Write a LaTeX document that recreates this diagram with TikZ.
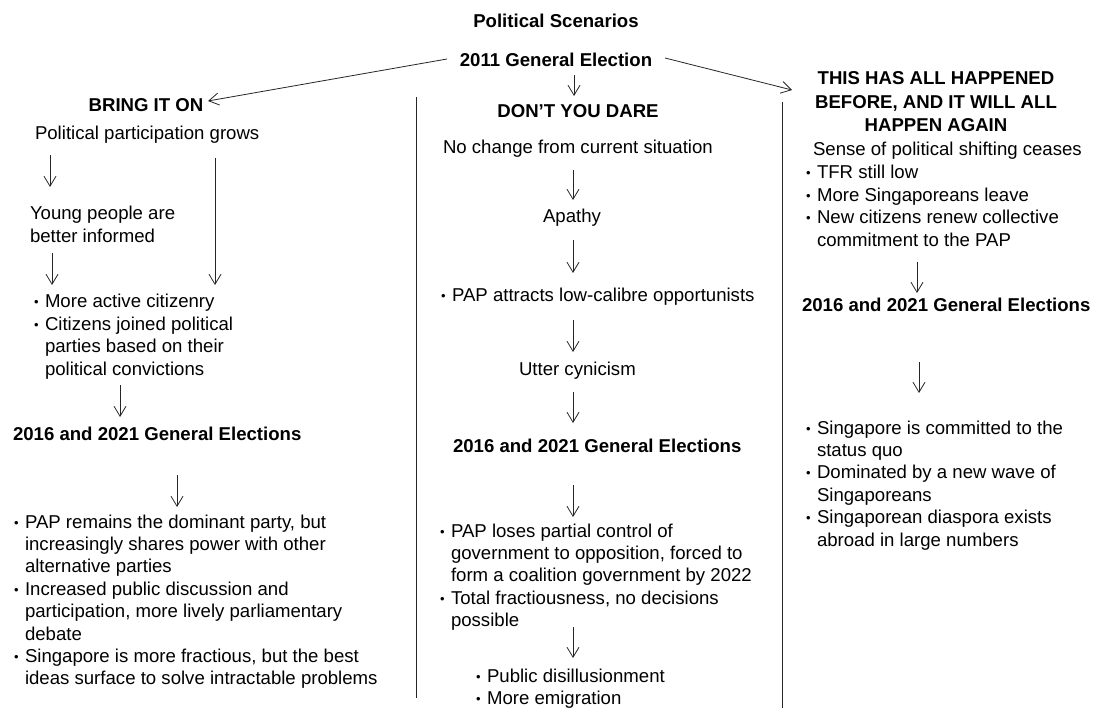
\documentclass[tikz,border=0pt]{standalone}
\usepackage{fontspec}
\setmainfont{Liberation Sans}
\usetikzlibrary{arrows.meta}
\newcommand{\bu}{\makebox[11pt][l]{\raisebox{1pt}{\fontsize{13}{13}\selectfont\textbullet}}}
\newcommand{\ind}{\hspace*{11pt}}
\newcommand{\tl}[1]{\begin{tabular}[t]{@{}l@{}}#1\end{tabular}}
\newcommand{\tc}[1]{\begin{tabular}[t]{@{}c@{}}#1\end{tabular}}
\begin{document}
\begin{tikzpicture}[x=1pt,y=-1pt,
  t/.style={inner sep=0pt, outer sep=0pt, font=\fontsize{18.6}{22.4}\selectfont},
  bf/.style={font=\fontsize{18.6}{22.4}\selectfont\bfseries},
  lb/.style={t, anchor=base west},
  cb/.style={t, anchor=base},
  ar/.style={draw=black!85, line width=0.8pt, -{Straight Barb[length=10pt,width=12pt,line width=0.8pt]}},
  sep/.style={draw=black!85, line width=0.9pt}]
\useasboundingbox (0,0) rectangle (1097,708);
\fill[white] (0,0) rectangle (1097,708);

% headings
\node[cb,bf] (title) at (556,28) {Political Scenarios};
\node[cb,bf] (ge) at (556,67) {2011 General Election};
\node[cb,bf] (bio) at (146,112) {BRING IT ON};
\node[cb,bf] (dyd) at (578,118) {DON’T YOU DARE};
\node[cb,font=\fontsize{18.6}{23.5}\selectfont\bfseries] (thab) at (936,85) {\tc{THIS HAS ALL HAPPENED\\BEFORE, AND IT WILL ALL\\HAPPEN AGAIN}};

% top connectors
\coordinate (gew) at (447,59);
\coordinate (bioe) at (208,101);
\coordinate (gee) at (665,58);
\coordinate (thabw) at (792,90);
\coordinate (ges) at (574,75);
\coordinate (dydn) at (574,96);
\draw[ar] (gew) -- (bioe);
\draw[ar] (gee) -- (thabw);
\draw[ar] (ges) -- (dydn);

% separators
\coordinate (s1t) at (416,97);
\coordinate (s1b) at (416,698);
\coordinate (s2t) at (782,102);
\coordinate (s2b) at (782,708);
\draw[sep] (s1t) -- (s1b);
\draw[sep] (s2t) -- (s2b);

% left column
\node[lb] (ppg) at (35,140) {Political participation grows};
\node[lb] (ypb) at (30,220) {\tl{Young people are\\better informed}};
\node[lb] (mac) at (34,308) {\tl{\bu More active citizenry\\\bu Citizens joined political\\\ind parties based on their\\\ind political convictions}};
\node[lb,bf] (gel) at (13,440) {2016 and 2021 General Elections};
\node[lb] (pap) at (14,528) {\tl{\bu PAP remains the dominant party, but\\\ind increasingly shares power with other\\\ind alternative parties\\\bu Increased public discussion and\\\ind participation, more lively parliamentary\\\ind debate\\\bu Singapore is more fractious, but the best\\\ind ideas surface to solve intractable problems}};

\coordinate (l1a) at (50,155);  \coordinate (l1b) at (50,187);
\coordinate (l2a) at (215,158); \coordinate (l2b) at (215,285);
\coordinate (l3a) at (52,253);  \coordinate (l3b) at (52,285);
\coordinate (l4a) at (120,385); \coordinate (l4b) at (120,417);
\coordinate (l5a) at (177,475); \coordinate (l5b) at (177,507);
\draw[ar] (l1a) -- (l1b);
\draw[ar] (l2a) -- (l2b);
\draw[ar] (l3a) -- (l3b);
\draw[ar] (l4a) -- (l4b);
\draw[ar] (l5a) -- (l5b);

% middle column
\node[lb] (ncs) at (443,154) {No change from current situation};
\node[lb] (apa) at (543,223) {Apathy};
\node[lb] (pat) at (441,302) {\bu PAP attracts low-calibre opportunists};
\node[lb] (utc) at (519,375) {Utter cynicism};
\node[lb,bf] (gem) at (453,452) {2016 and 2021 General Elections};
\node[lb] (plp) at (440,537) {\tl{\bu PAP loses partial control of\\\ind government to opposition, forced to\\\ind form a coalition government by 2022\\\bu Total fractiousness, no decisions\\\ind possible}};
\node[lb] (pdi) at (476,682) {\tl{\bu Public disillusionment\\\bu More emigration}};

\coordinate (m1a) at (573,170); \coordinate (m1b) at (573,200);
\coordinate (m2a) at (573,240); \coordinate (m2b) at (573,273);
\coordinate (m3a) at (573,320); \coordinate (m3b) at (573,352);
\coordinate (m4a) at (573,392); \coordinate (m4b) at (573,423);
\coordinate (m5a) at (573,485); \coordinate (m5b) at (573,517);
\coordinate (m6a) at (573,627); \coordinate (m6b) at (573,658);
\draw[ar] (m1a) -- (m1b);
\draw[ar] (m2a) -- (m2b);
\draw[ar] (m3a) -- (m3b);
\draw[ar] (m4a) -- (m4b);
\draw[ar] (m5a) -- (m5b);
\draw[ar] (m6a) -- (m6b);

% right column
\node[lb] (sps) at (813,156) {Sense of political shifting ceases};
\node[lb] (tfr) at (806,179) {\tl{\bu TFR still low\\\bu More Singaporeans leave\\\bu New citizens renew collective\\\ind commitment to the PAP}};
\node[lb,bf] (ger) at (802,312) {2016 and 2021 General Elections};
\node[lb] (sic) at (806,434) {\tl{\bu Singapore is committed to the\\\ind status quo\\\bu Dominated by a new wave of\\\ind Singaporeans\\\bu Singaporean diaspora exists\\\ind abroad in large numbers}};

\coordinate (r1a) at (917,262); \coordinate (r1b) at (917,293);
\coordinate (r2a) at (919,362); \coordinate (r2b) at (919,393);
\draw[ar] (r1a) -- (r1b);
\draw[ar] (r2a) -- (r2b);
\end{tikzpicture}
\end{document}
